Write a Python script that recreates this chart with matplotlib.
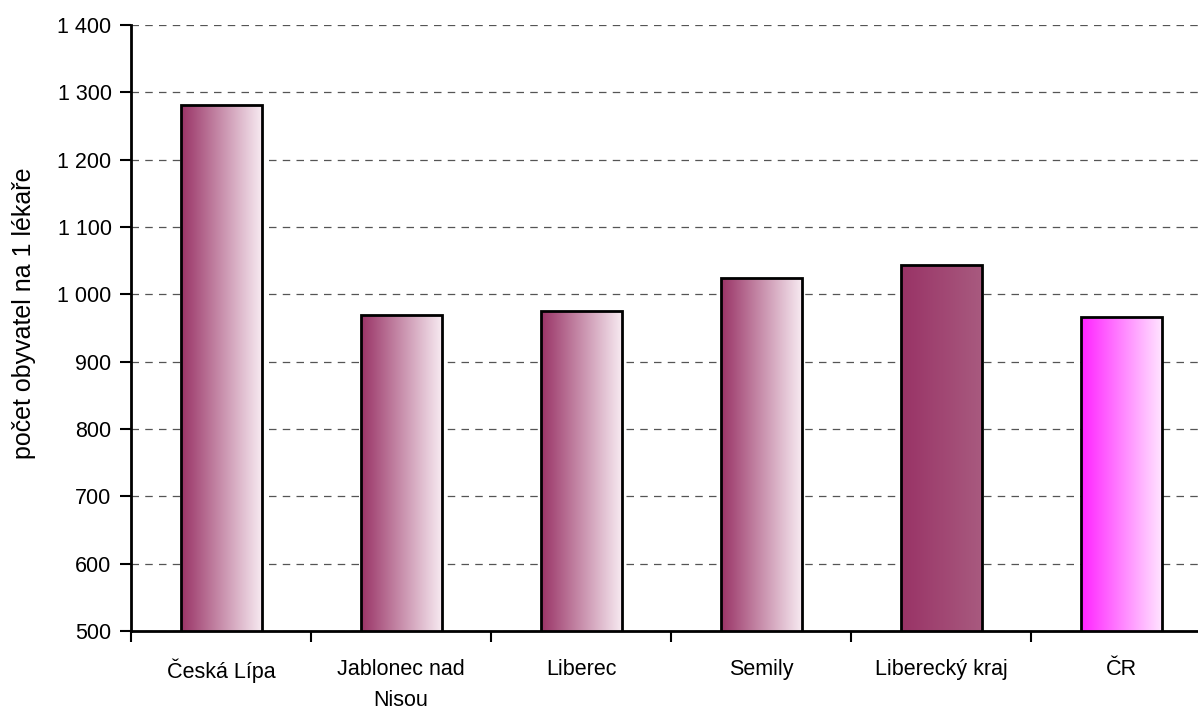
import numpy as np
import matplotlib
matplotlib.use('Agg')
from matplotlib import pyplot as plt
from matplotlib.colors import LinearSegmentedColormap

plt.rcParams['font.family'] = ['Liberation Sans', 'DejaVu Sans']

categories = ['Česká Lípa', 'Jablonec nad\nNisou', 'Liberec', 'Semily', 'Liberecký kraj', 'ČR']
values = [1281, 969, 975, 1024, 1044, 966]
# gradient start / end colour of each bar (left -> right)
grad_start = ['#993366', '#993366', '#993366', '#993366', '#993366', '#FF22FF']
grad_end = ['#F7EAF1', '#F7EAF1', '#F7EAF1', '#F7EAF1', '#A85A7F', '#FFE4FF']
yticks = [500, 600, 700, 800, 900, 1000, 1100, 1200, 1300, 1400]

fig = plt.figure(figsize=(11.98, 7.15), dpi=100)
ax = fig.add_axes([131/1198, 84/715, 1080/1198, 606/715])

x = np.arange(len(categories))
width = 0.45
bars = ax.bar(x, values, width, bottom=0, facecolor='none', edgecolor='black', linewidth=2, zorder=3)

grad = np.linspace(0, 1, 256).reshape(1, -1)
for b, c0, c1 in zip(bars, grad_start, grad_end):
    cmap = LinearSegmentedColormap.from_list('g', [c0, c1])
    x0, w, h = b.get_x(), b.get_width(), b.get_height()
    im = ax.imshow(grad, cmap=cmap, aspect='auto', extent=[x0, x0 + w, 500, h], zorder=2)
    im.set_clip_path(b)

ax.set_xlim(-0.5, len(categories) - 0.5)
ax.set_ylim(500, 1400)
ax.set_yticks(yticks)
ax.set_yticklabels([f'{v:,}'.replace(',', ' ') for v in yticks])
ax.set_xticks(np.arange(len(categories) + 1) - 0.5, minor=True)
ax.set_xticks(x)
ax.set_xticklabels(categories, linespacing=1.65)
ax.tick_params(axis='x', which='major', length=0, pad=20, labelsize=15.5)
ax.tick_params(axis='x', which='minor', length=8, width=1.5, direction='out')
ax.tick_params(axis='y', length=8, width=1.5, direction='out', labelsize=15.5, pad=6)

ax.yaxis.grid(True, linestyle=(0, (6, 5)), color='#555555', linewidth=0.9, zorder=0)
ax.set_axisbelow(True)
for s in ['top', 'right']:
    ax.spines[s].set_visible(False)
ax.spines['left'].set_linewidth(2)
ax.spines['bottom'].set_linewidth(2)

ax.set_ylabel('počet obyvatel na 1 lékaře', fontsize=18)
ax.yaxis.set_label_coords(-0.088, 0.525)

fig.savefig('out.png', dpi=100)
